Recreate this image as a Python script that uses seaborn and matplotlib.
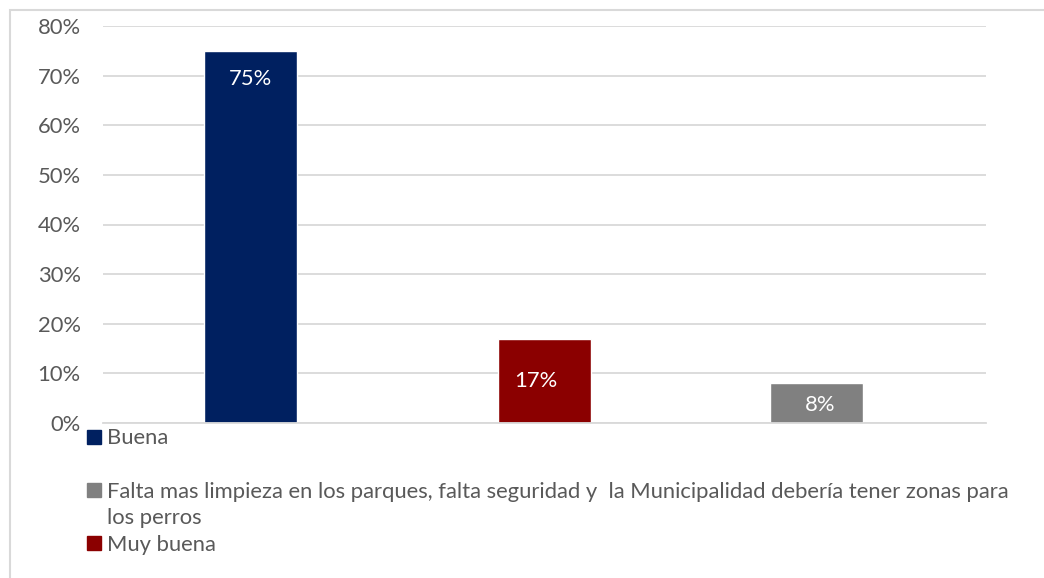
import matplotlib
matplotlib.use("Agg")
import matplotlib.pyplot as plt
import seaborn as sns
import pandas as pd
from matplotlib.patches import Patch, Rectangle

categories = ["Buena", "Muy buena",
              "Falta mas limpieza en los parques, falta seguridad y  la Municipalidad debería tener zonas para los perros"]
values = [0.75, 0.17, 0.08]
value_labels = ["75%", "17%", "8%"]
colors = ["#002060", "#8B0000", "#808080"]
yticks = [0, 0.1, 0.2, 0.3, 0.4, 0.5, 0.6, 0.7, 0.8]
ytick_labels = ["0%", "10%", "20%", "30%", "40%", "50%", "60%", "70%", "80%"]
legend_texts = ["Buena",
                "Falta mas limpieza en los parques, falta seguridad y  la Municipalidad debería tener zonas para",
                "los perros",
                "Muy buena"]

sns.set_theme(style="white")
plt.rcParams["font.family"] = ["Lato", "DejaVu Sans"]
FS = 15.8

df = pd.DataFrame({"cat": categories, "val": values})
fig = plt.figure(figsize=(10.44, 5.78), dpi=100)
ax = fig.add_axes([103/1044, 1-423/578, (986-103)/1044, (423-26)/578])

sns.barplot(data=df, x="cat", y="val", hue="cat", order=categories,
            palette=dict(zip(categories, colors)), width=0.316, dodge=False,
            legend=False, ax=ax, saturation=1)

ax.set_xlim(-0.5, 2.5)
ax.set_ylim(0, 0.8)
ax.set_yticks(yticks)
ax.set_yticklabels(ytick_labels)
ax.set_xticks([])
ax.set_xlabel("")
ax.set_ylabel("")
ax.grid(axis="y", color="#D9D9D9", linewidth=1.3)
ax.set_axisbelow(True)
for s in ["left", "right", "top"]:
    ax.spines[s].set_visible(False)
ax.spines["bottom"].set_color("#D9D9D9")
ax.spines["bottom"].set_linewidth(1.3)
ax.tick_params(axis="y", length=0, pad=16, labelsize=FS, labelcolor="#595959")

bars = [p for p in ax.patches][:3]
# third bar sits slightly left of its category centre in the original
bars[2].set_x(bars[2].get_x() - 0.077)

pads = [-28, -42, -22]
xoffs = [0, -9, 4]
for i, p in enumerate(bars):
    ax.annotate(value_labels[i], (p.get_x() + p.get_width()/2, p.get_height()),
                xytext=(xoffs[i], pads[i]), textcoords="offset pixels",
                ha="center", va="center", color="white", fontsize=FS)

handles = [Patch(color=colors[0]), Patch(color="none"), Patch(color=colors[2]),
           Patch(color="none"), Patch(color=colors[1])]
labels = ["Buena", " ", legend_texts[1], legend_texts[2], legend_texts[3]]
leg = fig.legend(handles, labels, loc="upper left", bbox_to_anchor=(83/1044, 1-424/578),
                 frameon=False, fontsize=FS, handlelength=0.62, handleheight=0.62,
                 handletextpad=0.26, labelspacing=0.30, borderaxespad=0, borderpad=0.2)
for t in leg.get_texts():
    t.set_color("#595959")

fig.patches.append(Rectangle((10/1044, -0.1), 1.2, 1 - 10/578 + 0.1, transform=fig.transFigure,
                             fill=False, edgecolor="#D9D9D9", linewidth=1.5))

fig.savefig("out.png", dpi=100)
